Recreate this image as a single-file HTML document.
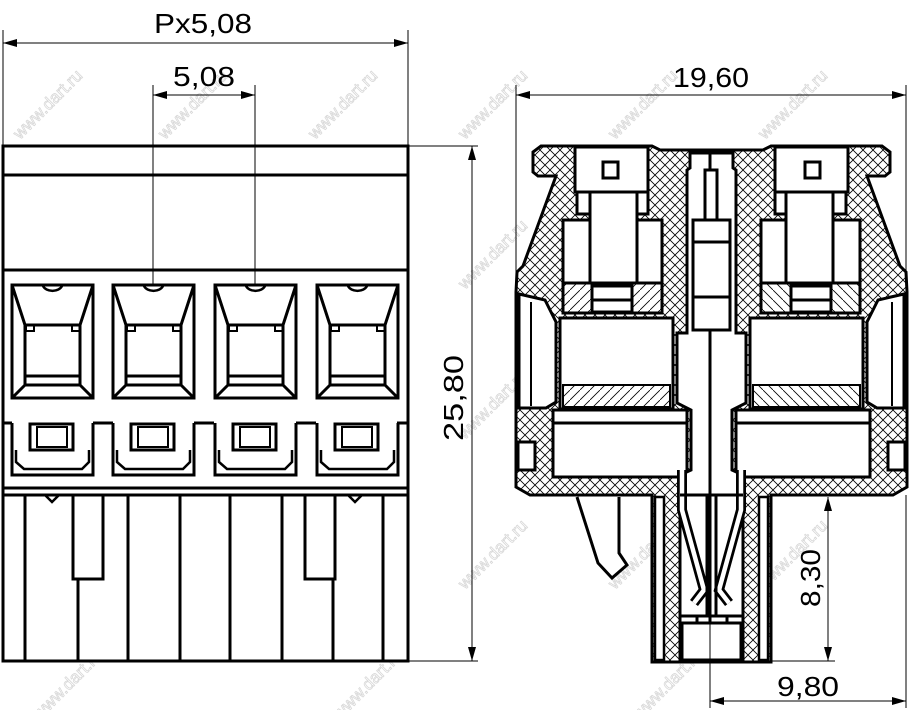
<!DOCTYPE html>
<html><head><meta charset="utf-8"><style>html,body{margin:0;padding:0;background:#fff}svg{display:block}</style></head>
<body>
<svg width="923" height="710" viewBox="0 0 923 710" xmlns="http://www.w3.org/2000/svg">
<defs>
<pattern id="ch" width="10" height="10" patternUnits="userSpaceOnUse">
<rect width="10" height="10" fill="#fff"/>
<path d="M0,0L10,10M10,0L0,10" stroke="#000" stroke-width="0.8"/>
</pattern>
<pattern id="dg" width="10" height="10" patternUnits="userSpaceOnUse">
<rect width="10" height="10" fill="#fff"/>
<path d="M-1,11L11,-1" stroke="#000" stroke-width="0.8"/>
</pattern>
<g id="win" fill="none" stroke="#000" stroke-width="3">
<rect x="12" y="285" width="81" height="113" fill="#fff"/>
<path d="M12,285L25,325M93,285L80,325M25,325H80M25,325V385H80V325M25,385L12,398M80,385L93,398M25,376H80" />
<path d="M43,286 A10,7 0 0 0 62,286" stroke-width="2.5"/>
<path d="M26,325V331H34V325M72,325V331H79" stroke-width="2"/>
</g>
<g id="sq" fill="none" stroke="#000" stroke-width="3">
<path d="M12,423V475H93V423" />
<path d="M16,450V462L24,469H82L89,462V450" stroke-width="2.5"/>
<rect x="30" y="424" width="43" height="26"/>
<rect x="37" y="427" width="30" height="20" stroke-width="2"/>
</g>
<marker id="ar" viewBox="0 0 14 8" refX="14" refY="4" markerWidth="14" markerHeight="8" markerUnits="userSpaceOnUse" orient="auto-start-reverse">
<path d="M0,0L14,4L0,8Z" fill="#000"/>
</marker>
<g id="half" stroke="#000" stroke-width="3" stroke-linejoin="miter">
<path d="M713,150H660L652,146H541L533,152V172L538,176H556L523,266L517,272L516,292V487L530,495H652V662H713Z" fill="url(#ch)"/>
<path d="M519,294L545,300L556,322V402L546,408H519Z" fill="#fff"/>
<path d="M531,302V406" fill="none" stroke-width="2"/>
<rect x="518" y="442" width="17" height="28" fill="#fff"/>
<rect x="575" y="147" width="73" height="45" fill="#fff"/>
<rect x="603" y="162" width="15" height="16" fill="#fff"/>
<rect x="577" y="192" width="71" height="22" fill="#fff"/>
<rect x="563" y="220" width="99" height="63" fill="#fff"/>
<rect x="590" y="192" width="47" height="91" fill="#fff"/>
<rect x="563" y="283" width="99" height="30" fill="url(#dg)"/>
<rect x="592" y="286" width="40" height="26" fill="#fff"/>
<path d="M592,300H632" fill="none"/>
<rect x="560" y="318" width="113" height="91" fill="#fff"/>
<rect x="563" y="385" width="107" height="22" fill="url(#dg)" stroke-width="2"/>
<rect x="553" y="410" width="134" height="67" fill="#fff"/>
<path d="M553,423H687" fill="none"/>
<path d="M690,153H713V660H680V475L691,470V410L677,403V333L687,333V170L690,168Z" fill="#fff"/>
<rect x="655" y="497" width="9" height="163" fill="#fff" stroke-width="2.5"/>
<polyline points="682,470 682,510 704,590 694,603" fill="none" stroke-width="10"/>
<polyline points="682,470 682,510 704,590 694,603" fill="none" stroke="#fff" stroke-width="4.5"/>
<path d="M707,495V616" fill="none"/>
</g>
</defs>
<rect width="923" height="710" fill="#fff"/>

<g font-family="Liberation Sans, sans-serif" font-size="17" fill="none" stroke="#d8d8d8" stroke-width="0.8">
<text transform="translate(20,140) rotate(-45)">www.dart.ru</text>
<text transform="translate(165,140) rotate(-45)">www.dart.ru</text>
<text transform="translate(315,140) rotate(-45)">www.dart.ru</text>
<text transform="translate(465,140) rotate(-45)">www.dart.ru</text>
<text transform="translate(615,140) rotate(-45)">www.dart.ru</text>
<text transform="translate(765,140) rotate(-45)">www.dart.ru</text>
<text transform="translate(20,290) rotate(-45)">www.dart.ru</text>
<text transform="translate(165,290) rotate(-45)">www.dart.ru</text>
<text transform="translate(315,290) rotate(-45)">www.dart.ru</text>
<text transform="translate(465,290) rotate(-45)">www.dart.ru</text>
<text transform="translate(615,290) rotate(-45)">www.dart.ru</text>
<text transform="translate(765,290) rotate(-45)">www.dart.ru</text>
<text transform="translate(20,440) rotate(-45)">www.dart.ru</text>
<text transform="translate(165,440) rotate(-45)">www.dart.ru</text>
<text transform="translate(315,440) rotate(-45)">www.dart.ru</text>
<text transform="translate(465,440) rotate(-45)">www.dart.ru</text>
<text transform="translate(615,440) rotate(-45)">www.dart.ru</text>
<text transform="translate(765,440) rotate(-45)">www.dart.ru</text>
<text transform="translate(20,590) rotate(-45)">www.dart.ru</text>
<text transform="translate(165,590) rotate(-45)">www.dart.ru</text>
<text transform="translate(315,590) rotate(-45)">www.dart.ru</text>
<text transform="translate(465,590) rotate(-45)">www.dart.ru</text>
<text transform="translate(615,590) rotate(-45)">www.dart.ru</text>
<text transform="translate(765,590) rotate(-45)">www.dart.ru</text>
<text transform="translate(40,720) rotate(-45)">www.dart.ru</text>
<text transform="translate(340,720) rotate(-45)">www.dart.ru</text>
<text transform="translate(640,720) rotate(-45)">www.dart.ru</text>
</g>

<g fill="none" stroke="#000" stroke-width="3">
<rect x="3" y="146" width="405" height="515" fill="#fff"/>
<path d="M3,175H408M3,270H408"/>
</g>
<use href="#win"/>
<use href="#win" transform="translate(101,0)"/>
<use href="#win" transform="translate(203,0)"/>
<use href="#win" transform="translate(305,0)"/>
<g fill="none" stroke="#000" stroke-width="3">
<path d="M3,423H12M93,423H113M194,423H214M296,423H316M397,423H408"/>
</g>
<use href="#sq"/>
<use href="#sq" transform="translate(101,0)"/>
<use href="#sq" transform="translate(203,0)"/>
<use href="#sq" transform="translate(305,0)"/>
<g fill="none" stroke="#000" stroke-width="3">
<path d="M3,488H408M3,495H408"/>
<path d="M45,495L52,502L59,495M348,495L355,502L362,495" stroke-width="2.5"/>
<path d="M25,495V661M78,579V661M128,495V661M180,495V661M230,495V661M282,495V661M333,579V661M383,495V661"/>
<rect x="73" y="495" width="30" height="84"/>
<rect x="305" y="495" width="30" height="84"/>
</g>

<g stroke="#000" stroke-width="1" fill="none">
<path d="M3,30V146M408,30V146"/>
<path d="M153,85V285M255,85V285"/>
<path d="M408,146H478M408,661H478"/>
<line x1="3" y1="43" x2="408" y2="43" marker-start="url(#ar)" marker-end="url(#ar)"/>
<line x1="153" y1="95" x2="255" y2="95" marker-start="url(#ar)" marker-end="url(#ar)"/>
<line x1="472" y1="146" x2="472" y2="661" marker-start="url(#ar)" marker-end="url(#ar)"/>
</g>

<use href="#half"/>
<use href="#half" transform="translate(1423,0) scale(-1,1)"/>
<g stroke="#000" stroke-width="3" fill="#fff">
<rect x="705" y="170" width="12" height="50"/>
<rect x="693" y="220" width="37" height="110"/>
<path d="M693,242H730M693,297H730" fill="none"/>
<path d="M680,495H743M680,616H743" fill="none"/>
<rect x="682" y="623" width="59" height="37"/>
<path d="M697,616V623M727,616V623" fill="none"/>
<path d="M577,497L598,563L612,578L627,565L619,553V497"/>
</g>

<g stroke="#000" stroke-width="1" fill="none">
<path d="M516,85V272M906,85V272"/>
<path d="M770,495H835M770,661H835"/>
<path d="M710,600V708M906,495V708"/>
<line x1="516" y1="95" x2="906" y2="95" marker-start="url(#ar)" marker-end="url(#ar)"/>
<line x1="828" y1="497" x2="828" y2="661" marker-start="url(#ar)" marker-end="url(#ar)"/>
<line x1="710" y1="701" x2="906" y2="701" marker-start="url(#ar)" marker-end="url(#ar)"/>
</g>

<g font-family="Liberation Sans, sans-serif" font-size="28" fill="#000" text-anchor="middle">
<text x="203" y="33" textLength="98" lengthAdjust="spacingAndGlyphs">Px5,08</text>
<text x="204" y="86" textLength="62" lengthAdjust="spacingAndGlyphs">5,08</text>
<text x="711" y="87" textLength="76" lengthAdjust="spacingAndGlyphs">19,60</text>
<text transform="translate(463,398) rotate(-90)" textLength="86" lengthAdjust="spacingAndGlyphs">25,80</text>
<text transform="translate(820,578) rotate(-90)" textLength="58" lengthAdjust="spacingAndGlyphs">8,30</text>
<text x="808" y="696" textLength="62" lengthAdjust="spacingAndGlyphs">9,80</text>
</g>
</svg>
</body></html>
